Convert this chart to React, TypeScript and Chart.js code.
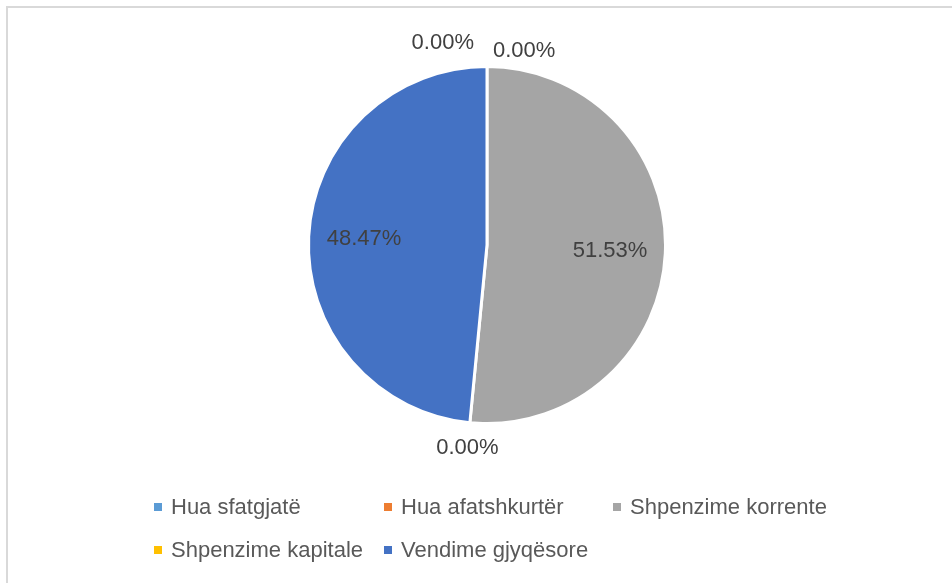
import { useEffect, useRef } from "react";
import { Chart, registerables } from "chart.js";

Chart.register(...registerables);

const categories = [
  "Hua sfatgjatë",
  "Hua afatshkurtër",
  "Shpenzime korrente",
  "Shpenzime kapitale",
  "Vendime gjyqësore",
];
const shares = [0, 0, 51.53, 0, 48.47];
const colors = ["#5B9BD5", "#ED7D31", "#A5A5A5", "#FFC000", "#4472C4"];

const FONT = '22px "Liberation Sans", Arial, sans-serif';

const framePlugin = {
  id: "frame",
  beforeDraw(chart: any) {
    const ctx = chart.ctx;
    ctx.save();
    ctx.fillStyle = "#ffffff";
    ctx.fillRect(0, 0, chart.width, chart.height);
    ctx.strokeStyle = "#d9d9d9";
    ctx.lineWidth = 2;
    ctx.strokeRect(7, 7, chart.width + 20, chart.height + 20);
    ctx.restore();
  },
};

const labelPlugin = {
  id: "sliceLabels",
  afterDatasetsDraw(chart: any) {
    const meta = chart.getDatasetMeta(0);
    const ctx = chart.ctx;
    ctx.save();
    ctx.font = FONT;
    ctx.fillStyle = "#404040";
    ctx.textBaseline = "middle";
    const arcs = meta.data.map((a: any) =>
      a.getProps(["x", "y", "startAngle", "endAngle", "outerRadius"], true)
    );
    arcs.forEach((p: any, i: number) => {
      const v = shares[i];
      const text = v.toFixed(2) + "%";
      const mid = (p.startAngle + p.endAngle) / 2;
      if (v > 0) {
        const r = p.outerRadius * 0.69;
        ctx.textAlign = "center";
        ctx.fillText(text, p.x + Math.cos(mid) * r, p.y + Math.sin(mid) * r);
      } else {
        const r = p.outerRadius + 25;
        const px = p.x + Math.cos(mid) * r;
        const py = p.y + Math.sin(mid) * r;
        const same = arcs
          .map((q: any, j: number) => ({ q, j }))
          .filter(
            ({ q, j }: any) =>
              shares[j] === 0 && Math.abs(q.startAngle - p.startAngle) < 1e-6
          )
          .map(({ j }: any) => j);
        if (same.length > 1) {
          const k = same.indexOf(i);
          if (k === 0) {
            ctx.textAlign = "right";
            ctx.fillText(text, px - 13, py + 1);
          } else {
            ctx.textAlign = "left";
            ctx.fillText(text, px + 6, py + 9);
          }
        } else {
          ctx.textAlign = "center";
          ctx.fillText(text, px, py);
        }
      }
    });
    ctx.restore();
  },
};

const legendPlugin = {
  id: "gridLegend",
  afterDraw(chart: any) {
    const ctx = chart.ctx;
    const colX = [154, 384, 613];
    const rowY = [507, 550];
    ctx.save();
    ctx.font = FONT;
    ctx.textBaseline = "middle";
    ctx.textAlign = "left";
    categories.forEach((name, i) => {
      const x = colX[i % 3];
      const y = rowY[Math.floor(i / 3)];
      ctx.fillStyle = colors[i];
      ctx.fillRect(x, y - 4, 8, 8);
      ctx.fillStyle = "#595959";
      ctx.fillText(name, x + 17, y + 1);
    });
    ctx.restore();
  },
};

export default function App() {
  const ref = useRef<HTMLCanvasElement>(null);
  useEffect(() => {
    document.body.style.margin = "0";
    if (!ref.current) return;
    const chart = new Chart(ref.current, {
      type: "pie",
      data: {
        labels: categories,
        datasets: [
          {
            data: shares,
            backgroundColor: colors,
            borderColor: "#ffffff",
            borderWidth: 3,
          },
        ],
      },
      options: {
        animation: false,
        responsive: true,
        maintainAspectRatio: false,
        layout: { padding: { top: 65, bottom: 158, left: 22, right: 0 } },
        plugins: {
          legend: { display: false },
          tooltip: { enabled: false },
        },
      },
      plugins: [framePlugin, labelPlugin, legendPlugin],
    });
    return () => chart.destroy();
  }, []);
  return (
    <div style={{ width: 952, height: 583, position: "relative" }}>
      <canvas ref={ref} />
    </div>
  );
}
